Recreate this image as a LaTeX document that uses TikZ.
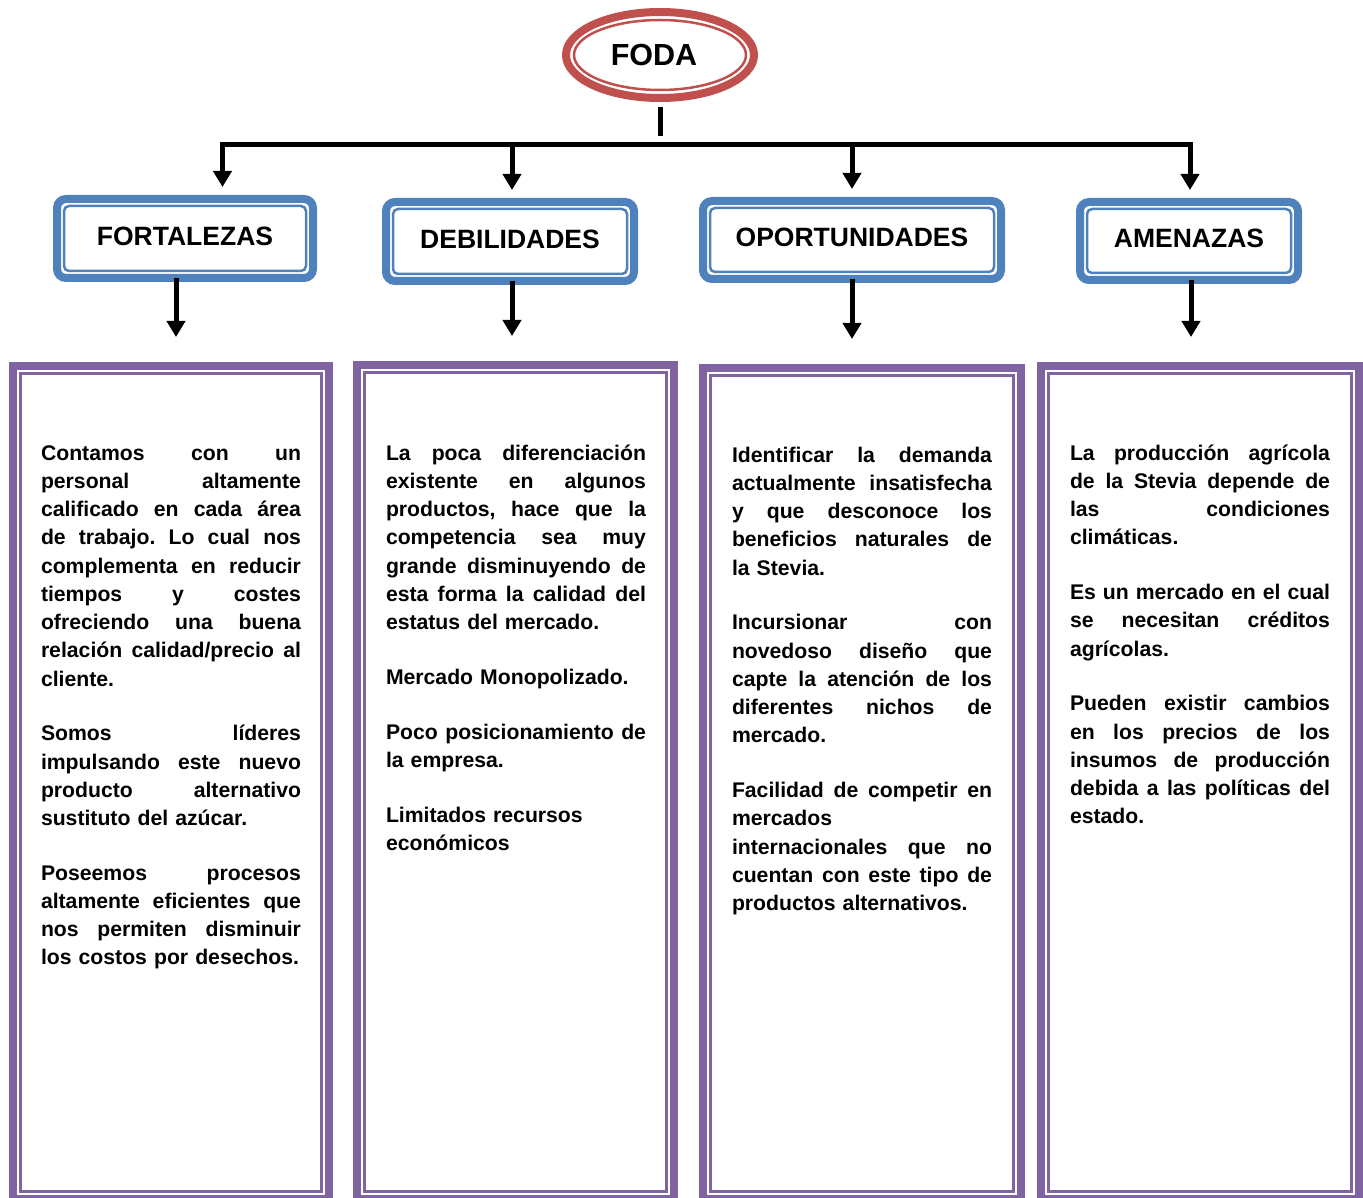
\documentclass[tikz,border=0pt]{standalone}
\usepackage{fontspec}
\setmainfont{Liberation Sans}
\usetikzlibrary{arrows.meta,shapes.geometric}
\definecolor{fodared}{HTML}{C0504D}
\definecolor{fodablue}{HTML}{4F81BD}
\definecolor{fodapurple}{HTML}{8064A2}
\setlength{\parindent}{0pt}
% one fully justified line of a text column
\newcommand\jl[1]{\leavevmode\hbox to 260pt{\spaceskip=0.278em plus 1fil minus 0.05em\relax #1}}
\newcommand\bodyfont{\fontsize{21.2pt}{28.25pt}\selectfont\bfseries\frenchspacing}
\newcommand\headfont{\fontsize{26.5pt}{30pt}\selectfont\bfseries}
\newcommand\titlefont{\fontsize{30.5pt}{34pt}\selectfont\bfseries}
\newcommand\pgap{\\[26.5pt]}
\begin{document}
\begin{tikzpicture}[x=1pt,y=-1pt,
  fodaconn/.style={line width=5pt, line join=miter, draw=black},
  downtip/.style={-{Triangle[width=18pt,length=16pt]}},
  bothtips/.style={{Triangle[width=18pt,length=16pt]}-{Triangle[width=18pt,length=16pt]}},
  headbox/.style={rectangle, rounded corners=9pt, draw=fodablue, line width=8pt,
    fill=white, inner sep=0pt, outer sep=0pt, font=\headfont,
    text height=19pt, text depth=5pt},
  headinner/.style={draw=fodablue, line width=2.5pt, rounded corners=5pt},
  textbox/.style={rectangle, draw=fodapurple, line width=8pt, fill=white,
    inner sep=0pt, outer sep=0pt},
  boxinner/.style={draw=fodapurple, line width=2.5pt},
  bodytext/.style={text width=260pt, align=left, inner sep=0pt, outer sep=0pt,
    font=\bodyfont, anchor=base west}
]
\useasboundingbox (0,0) rectangle (1363,1198);

% title ellipse
\node[ellipse, draw=fodared, line width=8pt, minimum width=188pt, minimum height=86pt,
  inner sep=0pt, outer sep=0pt, fill=white, font=\titlefont] (foda) at (660,55) {FODA\hspace*{12pt}};
\draw[fodared, line width=2.5pt] (foda.center) ellipse [x radius=86, y radius=35];

% category headings
\node[headbox, minimum width=256pt, minimum height=79pt] (f) at (185,238.5) {FORTALEZAS};
\node[headbox, minimum width=248pt, minimum height=79pt] (d) at (510,241.5) {DEBILIDADES};
\node[headbox, minimum width=298pt, minimum height=78pt] (o) at (852,240) {OPORTUNIDADES};
\node[headbox, minimum width=218pt, minimum height=78pt] (a) at (1189,241) {AMENAZAS};
\foreach \n in {f,d,o,a}
  \draw[headinner] ([shift={(7,7)}]\n.north west) rectangle ([shift={(-7,-7)}]\n.south east);

% text columns
\node[textbox, minimum width=316pt, minimum height=833pt] (tf) at (171,782.5) {};
\node[textbox, minimum width=317pt, minimum height=834pt] (td) at (515.5,782) {};
\node[textbox, minimum width=318pt, minimum height=831pt] (to) at (862,783.5) {};
\node[textbox, minimum width=318pt, minimum height=833pt] (ta) at (1200,782.5) {};
\foreach \n in {tf,td,to,ta}
  \draw[boxinner] ([shift={(7.5,7.5)}]\n.north west) rectangle ([shift={(-7.5,-7.5)}]\n.south east);

\node[bodytext] (tfx) at (41,460) {%
\jl{Contamos con un}\\
\jl{personal altamente}\\
\jl{calificado en cada área}\\
\jl{de trabajo. Lo cual nos}\\
\jl{complementa en reducir}\\
\jl{tiempos y costes}\\
\jl{ofreciendo una buena}\\
\jl{relación calidad/precio al}\\
cliente.\pgap
\jl{Somos líderes}\\
\jl{impulsando este nuevo}\\
\jl{producto alternativo}\\
sustituto del azúcar.\pgap
\jl{Poseemos procesos}\\
\jl{altamente eficientes que}\\
\jl{nos permiten disminuir}\\
los costos por desechos.};

\node[bodytext] (tdx) at (386,460) {%
\jl{La poca diferenciación}\\
\jl{existente en algunos}\\
\jl{productos, hace que la}\\
\jl{competencia sea muy}\\
\jl{grande disminuyendo de}\\
\jl{esta forma la calidad del}\\
estatus del mercado.\pgap
Mercado Monopolizado.\pgap
\jl{Poco posicionamiento de}\\
la empresa.\pgap
Limitados recursos\\
económicos};

\node[bodytext] (tox) at (732,462) {%
\jl{Identificar la demanda}\\
\jl{actualmente insatisfecha}\\
\jl{y que desconoce los}\\
\jl{beneficios naturales de}\\
la Stevia.\pgap
\jl{Incursionar con}\\
\jl{novedoso diseño que}\\
\jl{capte la atención de los}\\
\jl{diferentes nichos de}\\
mercado.\pgap
\jl{Facilidad de competir en}\\
mercados\\
\jl{internacionales que no}\\
\jl{cuentan con este tipo de}\\
productos alternativos.};

\node[bodytext] (tax) at (1070,460) {%
\jl{La producción agrícola}\\
\jl{de la Stevia depende de}\\
\jl{las condiciones}\\
climáticas.\pgap
\jl{Es un mercado en el cual}\\
\jl{se necesitan créditos}\\
agrícolas.\pgap
\jl{Pueden existir cambios}\\
\jl{en los precios de los}\\
\jl{insumos de producción}\\
\jl{debida a las políticas del}\\
estado.};

% branching connectors
\coordinate (jf) at (222.5,145);
\coordinate (jd) at (512,145);
\coordinate (jo) at (852,145);
\coordinate (ja) at (1190,145);
\draw[fodaconn, shorten <=9pt, shorten >=9pt] (foda.south) -- (foda.south |- jd);
\draw[fodaconn, bothtips, shorten <=12pt, shorten >=12pt]
  (jf |- f.north) -- (jf) -- (ja) -- (ja |- a.north);
\draw[fodaconn, downtip, shorten >=12pt] (jd) -- (jd |- d.north);
\draw[fodaconn, downtip, shorten >=12pt] (jo) -- (jo |- o.north);

% headings to their columns
\draw[fodaconn, downtip, shorten >=29pt] ([xshift=-9pt]f.south) -- ([xshift=-9pt]f.south |- tf.north);
\draw[fodaconn, downtip, shorten >=29pt] ([xshift=2pt]d.south) -- ([xshift=2pt]d.south |- td.north);
\draw[fodaconn, downtip, shorten >=29pt] (o.south) -- (o.south |- to.north);
\draw[fodaconn, downtip, shorten >=29pt] ([xshift=2pt]a.south) -- ([xshift=2pt]a.south |- ta.north);
\end{tikzpicture}
\end{document}
